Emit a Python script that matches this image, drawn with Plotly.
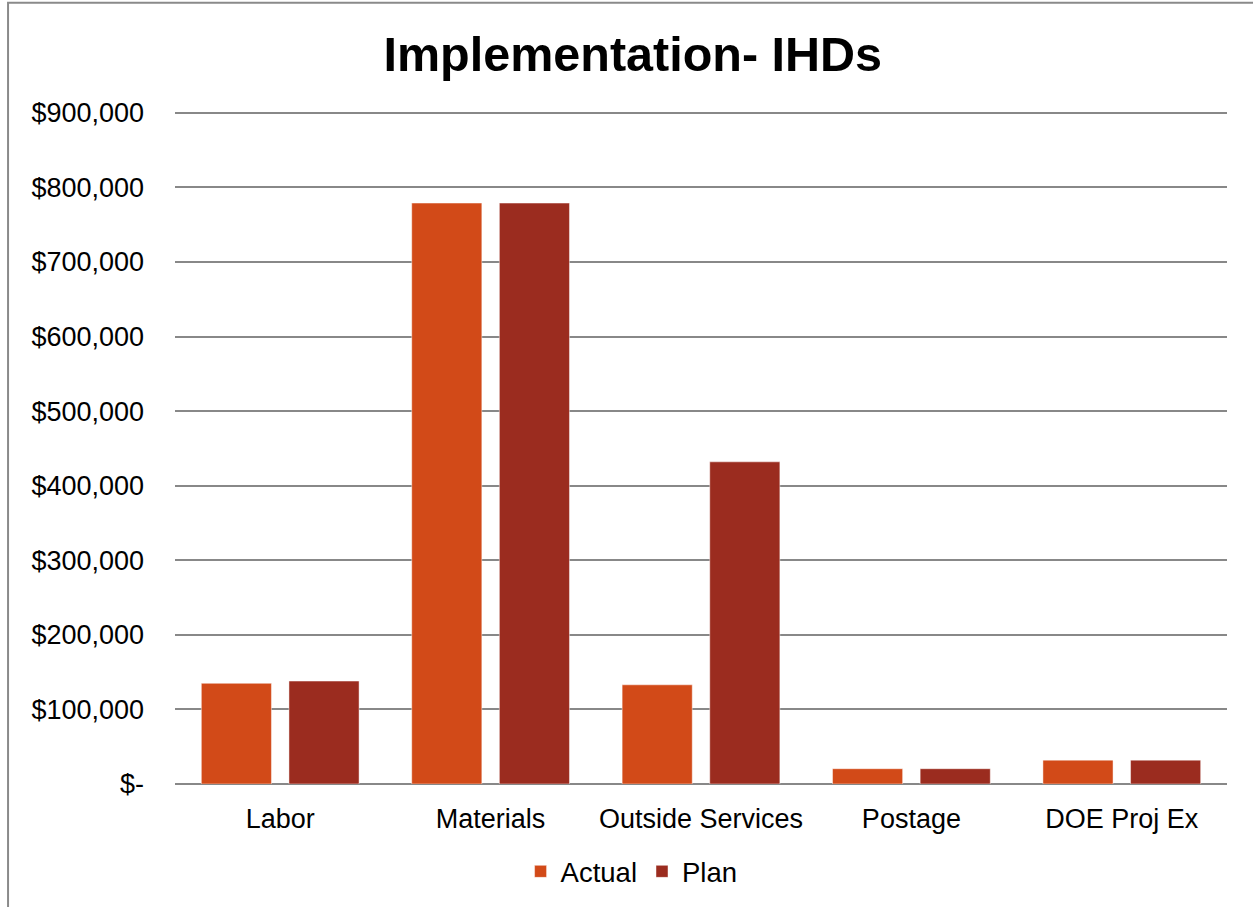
import plotly.graph_objects as go

# Budget categories and spend (USD)
categories = ["Labor", "Materials", "Outside Services", "Postage", "DOE Proj Ex"]
actual = [135000, 779000, 133000, 20500, 32000]
plan = [138000, 779000, 432000, 20500, 32000]

tick_vals = [0, 100000, 200000, 300000, 400000, 500000, 600000, 700000, 800000, 900000]
tick_text = ["$-", "$100,000", "$200,000", "$300,000", "$400,000", "$500,000",
             "$600,000", "$700,000", "$800,000", "$900,000"]

FONT = "Liberation Sans, Arial, sans-serif"
edge = dict(color="rgba(255,255,255,0.45)", width=1)

fig = go.Figure()
fig.add_trace(go.Bar(name="Actual", x=categories, y=actual,
                     marker=dict(color="#D24A18", line=edge)))
fig.add_trace(go.Bar(name="Plan", x=categories, y=plan,
                     marker=dict(color="#9B2C1F", line=edge)))

fig.update_layout(
    width=1253, height=907,
    margin=dict(l=175, r=26, t=111, b=123, autoexpand=False),
    paper_bgcolor="white", plot_bgcolor="white",
    barmode="group", bargap=0.167, bargroupgap=0.2,
    font=dict(family=FONT, color="black", size=27),
    title=dict(text="<b>Implementation- IHDs</b>", x=0.505, xanchor="center",
               y=0.94, yanchor="middle", font=dict(size=48.5, family=FONT)),
    showlegend=True,
    legend=dict(orientation="h", x=0.434, xanchor="center", y=-0.13,
                yanchor="middle", font=dict(size=27.5), itemwidth=30,
                tracegroupgap=0),
    shapes=[dict(type="rect", xref="paper", yref="paper",
                 x0=-0.1587, x1=1.2, y0=-0.4, y1=1.161,
                 line=dict(color="#8A8A8A", width=2), layer="below")],
)

fig.update_xaxes(showgrid=False, showline=False, zeroline=False, automargin=False,
                 tickfont=dict(size=27), ticks="", ticklabelstandoff=16)
fig.update_yaxes(range=[0, 902500], tickvals=tick_vals, ticktext=tick_text,
                 showgrid=True, gridcolor="#888888", gridwidth=1.5,
                 zeroline=True, zerolinecolor="#888888", zerolinewidth=1.5,
                 showline=False, ticks="", ticklabelstandoff=30, automargin=False,
                 tickfont=dict(size=27))

fig.write_html("out.html")
